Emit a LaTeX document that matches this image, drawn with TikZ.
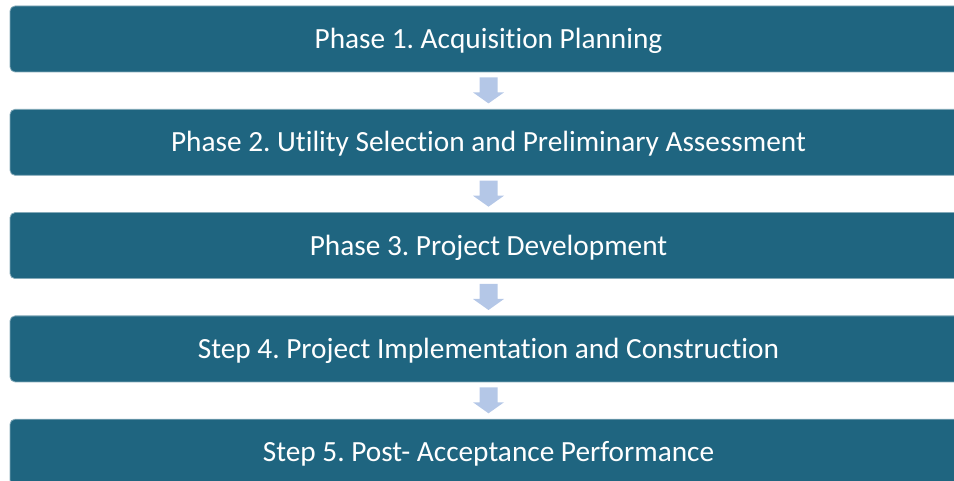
\documentclass[tikz,border=0pt]{standalone}
\usepackage{fontspec}
\setmainfont[Ligatures={NoCommon}]{Carlito}
\usetikzlibrary{calc}
\definecolor{boxc}{RGB}{31,101,128}
\definecolor{arrc}{RGB}{180,199,231}
\frenchspacing
\begin{document}
\begin{tikzpicture}[x=1pt,y=1pt,
  phase/.style={fill=boxc, draw=boxc!55!white, line width=0.8pt, rounded corners=5pt,
    minimum width=957pt, minimum height=66pt, text=white,
    font=\fontsize{29.3}{34}\selectfont, inner sep=0pt, text height=18.9pt, text depth=0pt},
  downarrow/.style={fill=arrc}]
\useasboundingbox (0,0) rectangle (954,-481);
\clip (0,0) rectangle (954,-481);
\node[phase] (b1) at (488.5,-39) {Phase 1. Acquisition Planning};
\node[phase] (b2) at (488.5,-142.3) {Phase 2. Utility Selection and Preliminary Assessment};
\node[phase] (b3) at (488.5,-245.6) {Phase 3. Project Development};
\node[phase] (b4) at (488.5,-348.9) {Step 4. Project Implementation and Construction};
\node[phase] (b5) at (488.5,-452.2) {Step 5. Post- Acceptance Performance};
\foreach \a in {b1,b2,b3,b4}{
  \fill[downarrow] ($(\a.south)+(-9,-5)$) -- ($(\a.south)+(9,-5)$) -- ($(\a.south)+(9,-20)$)
    -- ($(\a.south)+(15.5,-20)$) -- ($(\a.south)+(0,-31)$) -- ($(\a.south)+(-15.5,-20)$)
    -- ($(\a.south)+(-9,-20)$) -- cycle;
}
\end{tikzpicture}
\end{document}
